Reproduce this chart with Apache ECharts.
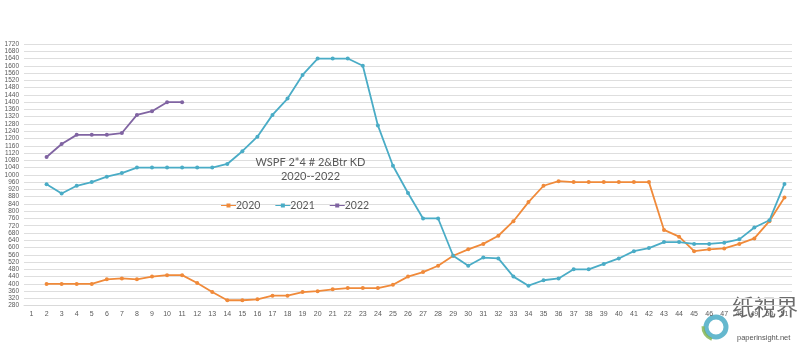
<!DOCTYPE html>
<html>
<head>
<meta charset="utf-8">
<script src="https://cdn.jsdelivr.net/npm/echarts@6/dist/echarts.min.js"></script>
<style>
html,body{margin:0;padding:0;background:#fff;}
#c{width:800px;height:345px;}
</style>
</head>
<body>
<div id="c"></div>
<script>
const categories = ['1','2','3','4','5','6','7','8','9','10','11','12','13','14','15','16','17','18','19','20','21','22','23','24','25','26','27','28','29','30','31','32','33','34','35','36','37','38','39','40','41','42','43','44','45','46','47','48','49','50','51'];
const s2020 = [null,400,400,400,400,425,430,425,440,448,448,405,355,310,310,315,335,335,355,360,370,377,377,377,395,440,465,500,555,590,620,665,745,850,940,965,960,960,960,960,960,960,697,660,580,590,595,620,650,745,875];
const s2021 = [null,948,897,940,960,990,1010,1040,1040,1040,1040,1040,1040,1060,1130,1210,1330,1420,1550,1640,1640,1640,1600,1272,1050,900,760,760,555,500,545,540,440,390,420,430,480,480,510,540,580,597,630,630,620,620,627,645,710,750,950];
const s2022 = [null,1098,1170,1220,1220,1220,1230,1330,1350,1400,1400];
const yTicks = {min:280, max:1720, interval:40};
const titleLines = ['WSPF 2*4 # 2&Btr KD','2020--2022'];
const seriesNames = ['2020','2021','2022'];
const colors = ['#F08A3A','#4AACC6','#8064A2'];

const chart = echarts.init(document.getElementById('c'), null, {renderer:'canvas'});
const mk = (name, data, color) => ({
  name, type:'line', data, connectNulls:false,
  symbol:'circle', symbolSize:4,
  lineStyle:{color, width:1.8},
  itemStyle:{color},
  emphasis:{disabled:true}
});
chart.setOption({
  animation:false,
  color:colors,
  title:{
    text:titleLines.join('\n'),
    left:305.5, top:151, textAlign:'center',
    textStyle:{fontFamily:'Lato, Open Sans, sans-serif', fontSize:11, fontWeight:'normal', color:'#595959', lineHeight:13.6}
  },
  legend:{
    data:seriesNames,
    left:216, top:195,
    itemWidth:15, itemHeight:4, itemGap:15,
    icon:'path://M0,1.5 L15,1.5 L15,2.5 L0,2.5 Z M5.5,0 L9.5,0 L9.5,4 L5.5,4 Z',
    textStyle:{fontFamily:'Lato, Open Sans, sans-serif', fontSize:10.5, color:'#595959', padding:[0,0,0,-5]}
  },
  grid:{left:24, right:8, top:44, bottom:39.3, containLabel:false},
  xAxis:{
    type:'category', data:categories, boundaryGap:true,
    axisLine:{show:true, lineStyle:{color:'#d9d9d9'}},
    axisTick:{show:false},
    axisLabel:{fontSize:7, color:'#595959', margin:5, interval:0, fontFamily:'Liberation Sans, sans-serif'},
    splitLine:{show:false}
  },
  yAxis:{
    type:'value', min:yTicks.min, max:yTicks.max, interval:yTicks.interval,
    axisLine:{show:false}, axisTick:{show:false},
    axisLabel:{fontSize:6.5, color:'#595959', margin:5, fontFamily:'Liberation Sans, sans-serif', formatter:v => String(v)},
    splitLine:{lineStyle:{color:'#dedede', width:1}}
  },
  series:[mk(seriesNames[0], s2020, colors[0]), mk(seriesNames[1], s2021, colors[1]), mk(seriesNames[2], s2022, colors[2])],
  graphic:[
    {type:'text', left:732, top:296, style:{text:'纸視界', font:'22px "Noto Sans CJK SC", sans-serif', fill:'#6b6b6b'}},
    {type:'text', left:737, top:334, style:{text:'paperinsight.net', font:'7.5px "Liberation Sans", sans-serif', fill:'#555'}},
    {type:'circle', shape:{cx:716, cy:327, r:10}, style:{fill:'none', stroke:'#4AACC6', lineWidth:5, opacity:0.85}},
    {type:'arc', shape:{cx:716, cy:327, r:13, startAngle:1.9, endAngle:3.2}, style:{fill:'none', stroke:'#7FB24A', lineWidth:3, opacity:0.8}}
  ]
});
</script>
</body>
</html>
